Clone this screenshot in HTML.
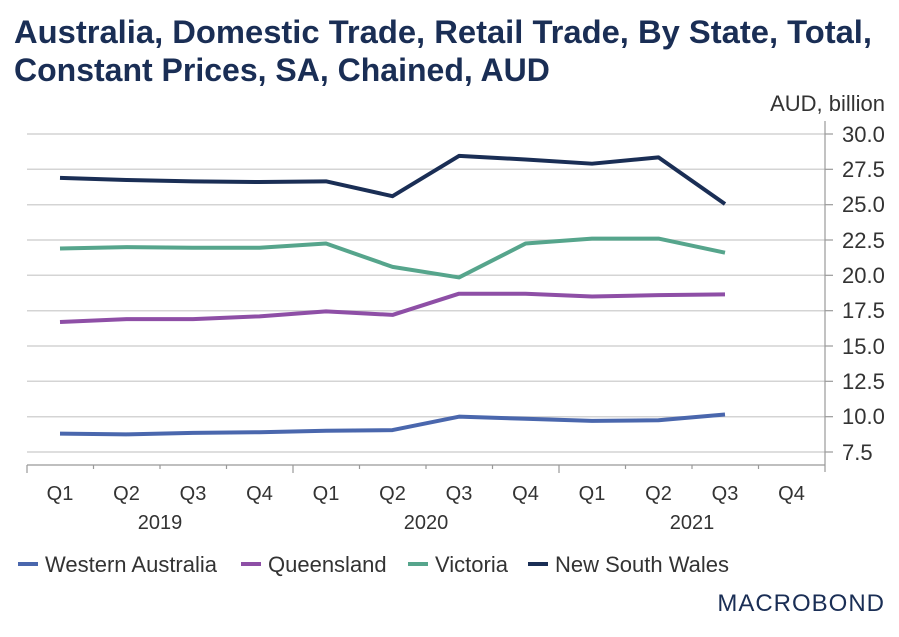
<!DOCTYPE html>
<html><head><meta charset="utf-8"><style>
body{margin:0;background:#fff;width:899px;height:632px;overflow:hidden;font-family:"Liberation Sans",Arial,sans-serif}
</style></head><body>
<svg width="899" height="632" xmlns="http://www.w3.org/2000/svg" font-family="Liberation Sans, Arial, sans-serif">
<text x="14" y="43" font-size="32" font-weight="bold" fill="#1a2e55" textLength="858" lengthAdjust="spacingAndGlyphs">Australia, Domestic Trade, Retail Trade, By State, Total,</text>
<text x="14" y="81" font-size="32" font-weight="bold" fill="#1a2e55">Constant Prices, SA, Chained, AUD</text>
<text x="885" y="111" font-size="22" fill="#333" text-anchor="end">AUD, billion</text>
<g stroke="#d4d4d4" stroke-width="1.5">
<line x1="27" x2="825" y1="134" y2="134"/><line x1="27" x2="825" y1="169.3" y2="169.3"/><line x1="27" x2="825" y1="204.7" y2="204.7"/><line x1="27" x2="825" y1="240" y2="240"/><line x1="27" x2="825" y1="275.3" y2="275.3"/><line x1="27" x2="825" y1="310.7" y2="310.7"/><line x1="27" x2="825" y1="346" y2="346"/><line x1="27" x2="825" y1="381.3" y2="381.3"/><line x1="27" x2="825" y1="416.7" y2="416.7"/><line x1="27" x2="825" y1="452" y2="452"/>
</g>
<g stroke="#999" stroke-width="1.2">
<line x1="825" x2="825" y1="121" y2="472"/>
<line x1="27" x2="825" y1="465" y2="465"/>
<line x1="825" x2="833" y1="134" y2="134"/><line x1="825" x2="833" y1="169.3" y2="169.3"/><line x1="825" x2="833" y1="204.7" y2="204.7"/><line x1="825" x2="833" y1="240" y2="240"/><line x1="825" x2="833" y1="275.3" y2="275.3"/><line x1="825" x2="833" y1="310.7" y2="310.7"/><line x1="825" x2="833" y1="346" y2="346"/><line x1="825" x2="833" y1="381.3" y2="381.3"/><line x1="825" x2="833" y1="416.7" y2="416.7"/><line x1="825" x2="833" y1="452" y2="452"/>
<line x1="27" x2="27" y1="465" y2="473"/><line x1="93.5" x2="93.5" y1="465" y2="469"/><line x1="160" x2="160" y1="465" y2="469"/><line x1="226.5" x2="226.5" y1="465" y2="469"/><line x1="293" x2="293" y1="465" y2="473"/><line x1="359.5" x2="359.5" y1="465" y2="469"/><line x1="426" x2="426" y1="465" y2="469"/><line x1="492.5" x2="492.5" y1="465" y2="469"/><line x1="559" x2="559" y1="465" y2="473"/><line x1="625.5" x2="625.5" y1="465" y2="469"/><line x1="692" x2="692" y1="465" y2="469"/><line x1="758.5" x2="758.5" y1="465" y2="469"/>
</g>
<g font-size="22" fill="#333">
<text x="842" y="142">30.0</text><text x="842" y="177">27.5</text><text x="842" y="212">25.0</text><text x="842" y="248">22.5</text><text x="842" y="283">20.0</text><text x="842" y="318">17.5</text><text x="842" y="354">15.0</text><text x="842" y="389">12.5</text><text x="842" y="424">10.0</text><text x="842" y="460">7.5</text>
</g>
<g font-size="20" fill="#333" text-anchor="middle">
<text x="60" y="500">Q1</text><text x="126.5" y="500">Q2</text><text x="193" y="500">Q3</text><text x="259.5" y="500">Q4</text><text x="326" y="500">Q1</text><text x="392.5" y="500">Q2</text><text x="459" y="500">Q3</text><text x="525.5" y="500">Q4</text><text x="592" y="500">Q1</text><text x="658.5" y="500">Q2</text><text x="725" y="500">Q3</text><text x="791.5" y="500">Q4</text>
<text x="160" y="529">2019</text><text x="426" y="529">2020</text><text x="692" y="529">2021</text>
</g>
<g fill="none" stroke-width="4" stroke-linejoin="round" transform="translate(0,452) scale(1,-14.133) translate(0,-7.5)">
<polyline vector-effect="non-scaling-stroke" stroke="#4a67ad" points="60,8.8 126.5,8.75 193,8.85 259.5,8.9 326,9.0 392.5,9.05 459,10.0 525.5,9.85 592,9.7 658.5,9.75 725,10.15"/>
<polyline vector-effect="non-scaling-stroke" stroke="#8e4fa6" points="60,16.7 126.5,16.9 193,16.9 259.5,17.1 326,17.45 392.5,17.2 459,18.7 525.5,18.7 592,18.5 658.5,18.6 725,18.65"/>
<polyline vector-effect="non-scaling-stroke" stroke="#56a58c" points="60,21.9 126.5,22.0 193,21.95 259.5,21.95 326,22.25 392.5,20.6 459,19.85 525.5,22.25 592,22.6 658.5,22.6 725,21.6"/>
<polyline vector-effect="non-scaling-stroke" stroke="#1a2e55" points="60,26.9 126.5,26.75 193,26.65 259.5,26.6 326,26.65 392.5,25.6 459,28.45 525.5,28.2 592,27.9 658.5,28.35 725,25.05"/>
</g>
<g stroke-width="4">
<line x1="18" x2="38" y1="564" y2="564" stroke="#4a67ad"/>
<line x1="241" x2="261" y1="564" y2="564" stroke="#8e4fa6"/>
<line x1="408" x2="428" y1="564" y2="564" stroke="#56a58c"/>
<line x1="528" x2="548" y1="564" y2="564" stroke="#1a2e55"/>
</g>
<g font-size="22" fill="#333">
<text x="45" y="572">Western Australia</text><text x="268" y="572">Queensland</text><text x="435" y="572">Victoria</text><text x="555" y="572">New South Wales</text>
</g>
<text x="885" y="611" font-size="24" fill="#1a2e55" text-anchor="end" letter-spacing="1">MACROBOND</text>
</svg>
</body></html>
